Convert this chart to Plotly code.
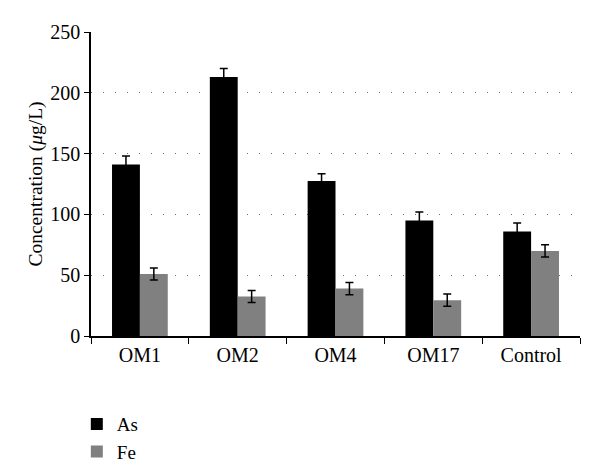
import plotly.graph_objects as go

categories = ["OM1", "OM2", "OM4", "OM17", "Control"]
as_values = [141, 213, 127.5, 95, 86]
as_errors = [7, 7, 6, 7, 7]
fe_values = [51, 32.5, 39, 29.5, 70]
fe_errors = [5, 5, 5, 5, 5]

font_family = "Liberation Serif, Times New Roman, serif"

fig = go.Figure()
fig.add_trace(go.Bar(
    name="As", x=categories, y=as_values,
    marker=dict(color="#000000", line=dict(width=0)),
    error_y=dict(type="data", array=as_errors, color="#000000", thickness=1.5, width=4),
))
fig.add_trace(go.Bar(
    name="Fe", x=categories, y=fe_values,
    marker=dict(color="#808080", line=dict(width=0)),
    error_y=dict(type="data", array=fe_errors, color="#000000", thickness=1.5, width=4),
))

fig.update_layout(
    width=592, height=459,
    margin=dict(l=83, r=20, t=24, b=131, autoexpand=False),
    paper_bgcolor="white", plot_bgcolor="white",
    barmode="group", bargap=0.43, bargroupgap=0,
    font=dict(family=font_family, size=20, color="#000000"),
    showlegend=True,
    legend=dict(x=-0.029, xref="paper", y=0.135, yref="container",
                xanchor="left", yanchor="top",
                font=dict(size=19), tracegroupgap=0, itemwidth=30),
    xaxis=dict(
        automargin=False,
        showline=True, linecolor="#000000", linewidth=1.5,
        ticks="outside", tickson="boundaries", ticklen=6, tickcolor="#000000",
        tickfont=dict(size=20), showgrid=False,
    ),
    yaxis=dict(
        automargin=False,
        range=[0, 250], dtick=50,
        showline=True, linecolor="#000000", linewidth=1.5,
        ticks="outside", ticklen=5, tickcolor="#000000",
        tickfont=dict(size=20),
        showgrid=True, gridcolor="#6f6f6f", gridwidth=1.2, griddash="1.2px,10.8px",
        zeroline=False,
        title=dict(text="Concentration (<i>μ</i>g/L)", font=dict(size=19.5), standoff=2),
    ),
)

fig.write_html("out.html")
